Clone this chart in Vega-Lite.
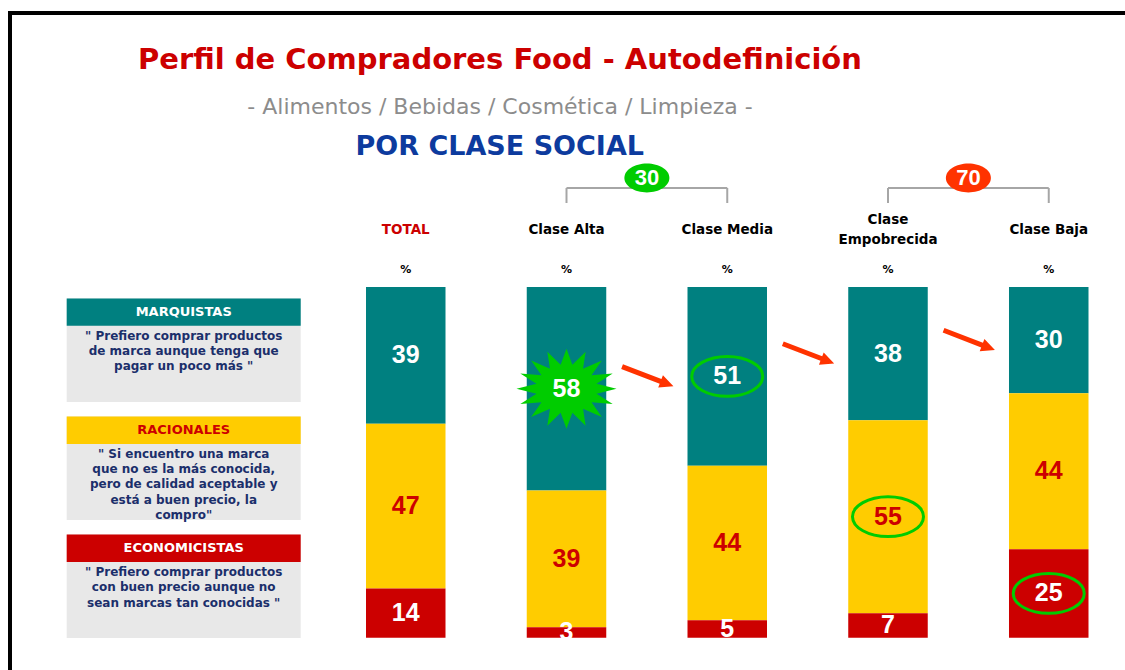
{
  "$schema": "https://vega.github.io/schema/vega-lite/v6.json",
  "width": 1115,
  "height": 657,
  "autosize": {"type": "none"},
  "padding": {"left": 10, "top": 13, "right": 0, "bottom": 0},
  "background": "#FFFFFF",
  "config": {
    "view": {"stroke": "#000000", "strokeWidth": 4, "strokeDash": [1115, 1772, 657, 200], "strokeCap": "square"},
    "axis": {"domain": false, "labels": false, "ticks": false, "grid": false, "titleOpacity": 0},
    "text": {"font": "DejaVu Sans"}
  },
  "title": {
    "text": "Perfil de Compradores Food - Autodefinición",
    "subtitle": "- Alimentos / Bebidas / Cosmética / Limpieza -",
    "anchor": "middle",
    "frame": "group",
    "orient": "top",
    "offset": -105,
    "dx": -67.5,
    "font": "DejaVu Sans",
    "fontSize": 29,
    "fontWeight": "bold",
    "color": "#CC0000",
    "subtitleFont": "DejaVu Sans",
    "subtitleFontSize": 22,
    "subtitleColor": "#8C8C8C",
    "subtitlePadding": 22
  },
  "datasets": {
    "barras": [
      {"clase": "TOTAL", "segmento": "MARQUISTAS", "valor": 39},
      {"clase": "TOTAL", "segmento": "RACIONALES", "valor": 47},
      {"clase": "TOTAL", "segmento": "ECONOMICISTAS", "valor": 14},
      {"clase": "Clase Alta", "segmento": "MARQUISTAS", "valor": 58},
      {"clase": "Clase Alta", "segmento": "RACIONALES", "valor": 39},
      {"clase": "Clase Alta", "segmento": "ECONOMICISTAS", "valor": 3},
      {"clase": "Clase Media", "segmento": "MARQUISTAS", "valor": 51},
      {"clase": "Clase Media", "segmento": "RACIONALES", "valor": 44},
      {"clase": "Clase Media", "segmento": "ECONOMICISTAS", "valor": 5},
      {"clase": "Clase Empobrecida", "segmento": "MARQUISTAS", "valor": 38},
      {"clase": "Clase Empobrecida", "segmento": "RACIONALES", "valor": 55},
      {"clase": "Clase Empobrecida", "segmento": "ECONOMICISTAS", "valor": 7},
      {"clase": "Clase Baja", "segmento": "MARQUISTAS", "valor": 30},
      {"clase": "Clase Baja", "segmento": "RACIONALES", "valor": 44},
      {"clase": "Clase Baja", "segmento": "ECONOMICISTAS", "valor": 25}
    ],
    "columnas": [
      {"clase": "TOTAL", "titulo": "TOTAL"},
      {"clase": "Clase Alta", "titulo": "Clase Alta"},
      {"clase": "Clase Media", "titulo": "Clase Media"},
      {"clase": "Clase Empobrecida", "titulo": "Clase\nEmpobrecida"},
      {"clase": "Clase Baja", "titulo": "Clase Baja"}
    ],
    "grupos": [
      {"grupo": "30", "desde": "Clase Alta", "hasta": "Clase Media"},
      {"grupo": "70", "desde": "Clase Empobrecida", "hasta": "Clase Baja"}
    ],
    "leyenda": [
      {"segmento": "MARQUISTAS", "descripcion": "\" Prefiero comprar productos\nde marca aunque tenga que\npagar un poco más \""},
      {"segmento": "RACIONALES", "descripcion": "\" Si encuentro una marca\nque no es la más conocida,\npero de calidad aceptable y\nestá a buen precio, la\ncompro\""},
      {"segmento": "ECONOMICISTAS", "descripcion": "\" Prefiero comprar productos\ncon buen precio aunque no\nsean marcas tan conocidas \""}
    ]
  },
  "resolve": {"scale": {"x": "independent", "y": "independent"}},
  "layer": [
    {
      "layer": [
        {
          "data": {"name": "barras"},
          "transform": [
            {"calculate": "indexof(['ECONOMICISTAS','RACIONALES','MARQUISTAS'], datum.segmento)", "as": "orden"},
            {"stack": "valor", "groupby": ["clase"], "sort": [{"field": "orden", "order": "ascending"}], "offset": "normalize", "as": ["y0", "y1"]},
            {"calculate": "(datum.y0 + datum.y1) / 2", "as": "ymid"}
          ],
          "layer": [
            {
              "mark": {"type": "rect"},
              "encoding": {
                "x": {"field": "clase", "type": "nominal", "title": null,
                  "scale": {"domain": ["TOTAL", "Clase Alta", "Clase Media", "Clase Empobrecida", "Clase Baja"], "range": [356, 1078.5], "paddingInner": 0.5054, "paddingOuter": 0, "round": false},
                  "axis": null},
                "y": {"field": "y0", "type": "quantitative", "title": null,
                  "scale": {"domain": [-0.0921, 1.7813], "nice": false, "zero": false},
                  "axis": null},
                "y2": {"field": "y1"},
                "color": {"field": "segmento", "type": "nominal",
                  "scale": {"domain": ["MARQUISTAS", "RACIONALES", "ECONOMICISTAS"], "range": ["#008080", "#FFCC00", "#CC0000"]},
                  "legend": null}
              }
            },
            {
              "transform": [{"filter": "datum.clase === 'Clase Alta' && datum.segmento === 'MARQUISTAS'"}],
              "mark": {"type": "point", "filled": true, "opacity": 1, "color": "#00CC00", "size": 10000,
                "shape": "M1,0L0.6,0.1L0.924,0.306L0.5,0.27L0.707,0.566L0.33,0.4L0.383,0.739L0.117,0.48L0,0.8L-0.117,0.48L-0.383,0.739L-0.33,0.4L-0.707,0.566L-0.5,0.27L-0.924,0.306L-0.6,0.1L-1,0L-0.6,-0.1L-0.924,-0.306L-0.5,-0.27L-0.707,-0.566L-0.33,-0.4L-0.383,-0.739L-0.117,-0.48L0,-0.8L0.117,-0.48L0.383,-0.739L0.33,-0.4L0.707,-0.566L0.5,-0.27L0.924,-0.306L0.6,-0.1Z"},
              "encoding": {
                "x": {"field": "clase", "type": "nominal", "title": null},
                "y": {"field": "ymid", "type": "quantitative", "title": null}
              }
            },
            {
              "mark": {"type": "text", "font": "Liberation Sans", "fontWeight": "bold", "fontSize": 25, "baseline": "middle", "align": "center"},
              "encoding": {
                "x": {"field": "clase", "type": "nominal", "title": null},
                "y": {"field": "ymid", "type": "quantitative", "title": null},
                "text": {"field": "valor", "type": "quantitative"},
                "color": {"condition": {"test": "datum.segmento === 'RACIONALES'", "value": "#CC0000"}, "value": "#FFFFFF"}
              }
            },
            {
              "transform": [{"filter": "(datum.clase === 'Clase Media' && datum.segmento === 'MARQUISTAS') || (datum.clase === 'Clase Empobrecida' && datum.segmento === 'RACIONALES') || (datum.clase === 'Clase Baja' && datum.segmento === 'ECONOMICISTAS')"}],
              "mark": {"type": "point", "filled": false, "opacity": 1, "stroke": "#00CC00", "strokeWidth": 3, "size": 5041,
                "shape": "M-1,0A1,0.56 0 1,1 1,0A1,0.56 0 1,1 -1,0Z"},
              "encoding": {
                "x": {"field": "clase", "type": "nominal", "title": null},
                "y": {"field": "ymid", "type": "quantitative", "title": null}
              }
            },
            {
              "transform": [{"filter": "datum.segmento === 'MARQUISTAS' && datum.clase !== 'TOTAL' && datum.clase !== 'Clase Alta'"}],
              "mark": {"type": "point", "filled": true, "opacity": 1, "color": "#FF3300", "size": 3025, "angle": 21,
                "shape": "M-1,-0.09L0.5,-0.09L0.5,-0.24L1,0L0.5,0.24L0.5,0.09L-1,0.09Z"},
              "encoding": {
                "x": {"field": "clase", "type": "nominal", "title": null, "bandPosition": -0.5},
                "y": {"field": "ymid", "type": "quantitative", "title": null}
              }
            }
          ]
        },
        {
          "data": {"name": "columnas"},
          "transform": [{"filter": "datum.clase !== 'Clase Empobrecida'"}],
          "mark": {"type": "text", "font": "DejaVu Sans", "fontWeight": "bold", "fontSize": 13.5, "baseline": "middle", "align": "center"},
          "encoding": {
            "x": {"field": "clase", "type": "nominal", "title": null},
            "y": {"datum": 1.1625, "type": "quantitative"},
            "text": {"field": "titulo"},
            "color": {"condition": {"test": "datum.clase === 'TOTAL'", "value": "#CC0000"}, "value": "#000000"}
          }
        },
        {
          "data": {"name": "columnas"},
          "transform": [{"filter": "datum.clase === 'Clase Empobrecida'"}],
          "mark": {"type": "text", "font": "DejaVu Sans", "fontWeight": "bold", "fontSize": 13.5, "baseline": "middle", "align": "center", "lineBreak": "\n", "lineHeight": 20, "color": "#000000"},
          "encoding": {
            "x": {"field": "clase", "type": "nominal", "title": null},
            "y": {"datum": 1.191, "type": "quantitative"},
            "text": {"field": "titulo"}
          }
        },
        {
          "data": {"name": "columnas"},
          "mark": {"type": "text", "font": "DejaVu Sans", "fontWeight": "bold", "fontSize": 11, "baseline": "middle", "align": "center", "color": "#000000"},
          "encoding": {
            "x": {"field": "clase", "type": "nominal", "title": null},
            "y": {"datum": 1.0485, "type": "quantitative"},
            "text": {"value": "%"}
          }
        },
        {
          "data": {"name": "columnas"},
          "transform": [{"filter": "datum.clase === 'TOTAL'"}],
          "mark": {"type": "text", "font": "DejaVu Sans", "fontWeight": "bold", "fontSize": 27, "baseline": "middle", "align": "center", "color": "#0D3B9E", "dx": 94},
          "encoding": {
            "x": {"field": "clase", "type": "nominal", "title": null},
            "y": {"datum": 1.40, "type": "quantitative"},
            "text": {"value": "POR CLASE SOCIAL"}
          }
        },
        {
          "data": {"name": "grupos"},
          "mark": {"type": "rule", "color": "#A6A6A6", "strokeWidth": 2},
          "encoding": {
            "x": {"field": "desde", "type": "nominal", "title": null},
            "x2": {"field": "hasta"},
            "y": {"datum": 1.2823, "type": "quantitative"}
          }
        },
        {
          "data": {"name": "grupos"},
          "transform": [{"fold": ["desde", "hasta"], "as": ["extremo", "clase"]}],
          "mark": {"type": "rule", "color": "#A6A6A6", "strokeWidth": 2},
          "encoding": {
            "x": {"field": "clase", "type": "nominal", "title": null},
            "y": {"datum": 1.2823, "type": "quantitative"},
            "y2": {"datum": 1.2395}
          }
        },
        {
          "data": {"name": "grupos"},
          "mark": {"type": "point", "filled": true, "opacity": 1, "strokeWidth": 0, "size": 2025,
            "shape": "M-1,0A1,0.64 0 1,1 1,0A1,0.64 0 1,1 -1,0Z"},
          "encoding": {
            "x": {"field": "desde", "type": "nominal", "title": null, "bandPosition": 1.511},
            "y": {"datum": 1.3108, "type": "quantitative"},
            "fill": {"field": "grupo", "type": "nominal", "scale": {"domain": ["30", "70"], "range": ["#00CC00", "#FF3300"]}, "legend": null}
          }
        },
        {
          "data": {"name": "grupos"},
          "mark": {"type": "text", "font": "Liberation Sans", "fontWeight": "bold", "fontSize": 22, "baseline": "middle", "align": "center", "color": "#FFFFFF"},
          "encoding": {
            "x": {"field": "desde", "type": "nominal", "title": null, "bandPosition": 1.511},
            "y": {"datum": 1.3108, "type": "quantitative"},
            "text": {"field": "grupo"}
          }
        }
      ]
    },
    {
      "data": {"name": "leyenda"},
      "encoding": {
        "x": {"datum": "leyenda", "type": "nominal",
          "scale": {"domain": ["leyenda"], "range": [56.7, 290.7], "paddingInner": 0, "paddingOuter": 0, "round": false},
          "axis": null},
        "y": {"field": "segmento", "type": "nominal", "title": null,
          "scale": {"domain": ["MARQUISTAS", "RACIONALES", "ECONOMICISTAS"], "range": [285.5, 625.0], "paddingInner": 0.1238, "paddingOuter": 0, "round": false},
          "axis": null}
      },
      "layer": [
        {
          "mark": {"type": "rect", "color": "#E8E8E8"}
        },
        {
          "mark": {"type": "rect"},
          "encoding": {
            "y": {"field": "segmento", "type": "nominal", "bandPosition": 0, "title": null},
            "y2": {"field": "segmento", "bandPosition": 0.2644},
            "color": {"field": "segmento", "type": "nominal",
              "scale": {"domain": ["MARQUISTAS", "RACIONALES", "ECONOMICISTAS"], "range": ["#008080", "#FFCC00", "#CC0000"]},
              "legend": null}
          }
        },
        {
          "mark": {"type": "text", "font": "DejaVu Sans", "fontWeight": "bold", "fontSize": 13, "baseline": "middle", "align": "center"},
          "encoding": {
            "y": {"field": "segmento", "type": "nominal", "bandPosition": 0.1322, "title": null},
            "text": {"field": "segmento"},
            "color": {"condition": {"test": "datum.segmento === 'RACIONALES'", "value": "#CC0000"}, "value": "#FFFFFF"}
          }
        },
        {
          "mark": {"type": "text", "font": "DejaVu Sans", "fontWeight": "bold", "fontSize": 12, "baseline": "top", "align": "center", "dy": 5, "lineBreak": "\n", "lineHeight": 15.3, "color": "#1B2F6B"},
          "encoding": {
            "y": {"field": "segmento", "type": "nominal", "bandPosition": 0.2644, "title": null},
            "text": {"field": "descripcion"}
          }
        }
      ]
    }
  ]
}
